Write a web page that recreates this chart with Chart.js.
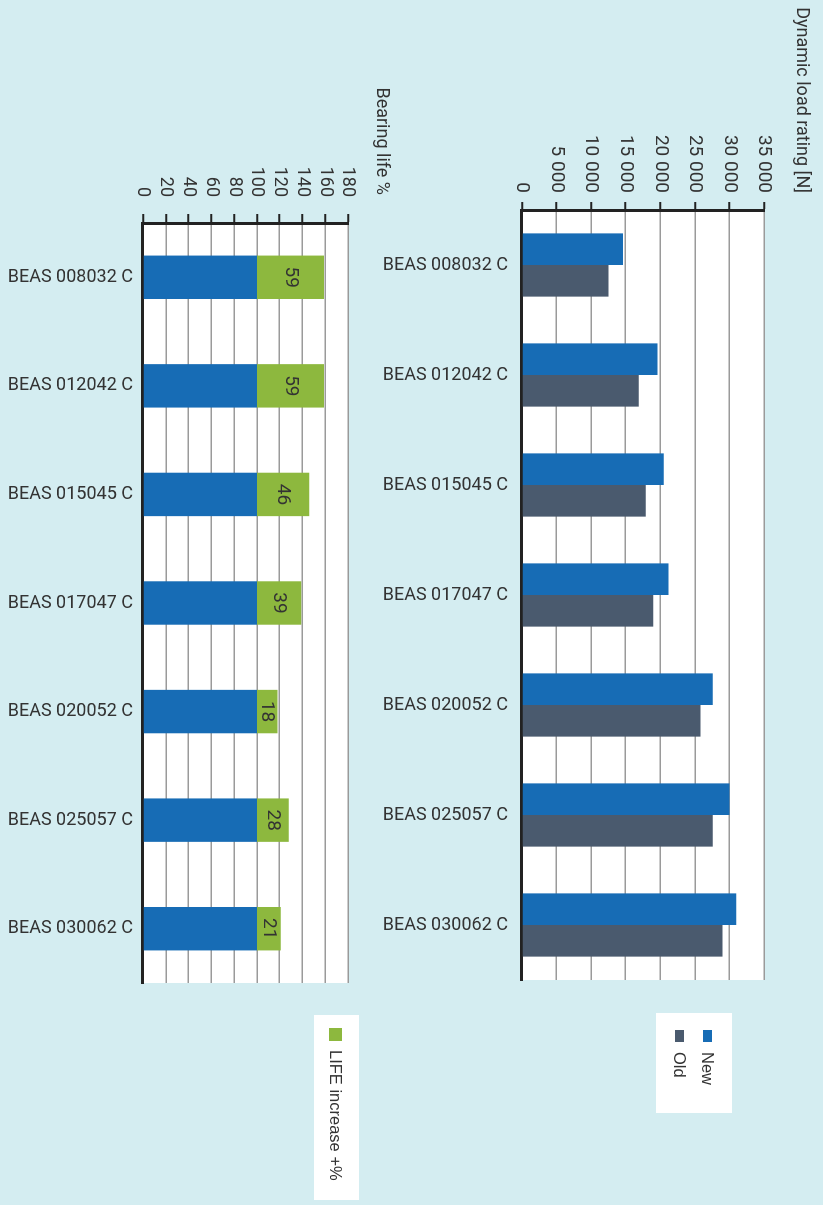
<!DOCTYPE html>
<html>
<head>
<meta charset="utf-8">
<script src="https://cdn.jsdelivr.net/npm/chart.js@4.4.0/dist/chart.umd.min.js"></script>
<style>
  body { margin: 0; background: #d4edf1; width: 823px; height: 1205px; overflow: hidden; }
  /* whole figure is laid out flat, then turned a quarter clockwise */
  #page { position: absolute; left: 0; top: 0; width: 1205px; height: 823px;
          transform-origin: 0 0; transform: translate(823px, 0) rotate(90deg); }
  canvas { position: absolute; left: 0; }
  #load-chart { top: 0; }
  #life-chart { top: 420px; }
  .legend { position: absolute; background: #fff; color: #333;
            font-family: "Liberation Sans", Arial, sans-serif; font-size: 16.5px; }
  .legend span { position: absolute; white-space: nowrap; line-height: 20px; }
  .legend i { position: absolute; }
</style>
</head>
<body>
<div id="page">
  <canvas id="load-chart" width="1205" height="460"></canvas>
  <canvas id="life-chart" width="1205" height="403"></canvas>
  <div class="legend" id="load-legend" style="left:1013px; top:91px; width:100px; height:76px;"></div>
  <div class="legend" id="life-legend" style="left:1015px; top:464px; width:185px; height:45px;"></div>
</div>
<script>
const categories = ["BEAS 008032 C", "BEAS 012042 C", "BEAS 015045 C", "BEAS 017047 C",
                    "BEAS 020052 C", "BEAS 025057 C", "BEAS 030062 C"];

// dynamic load rating [N]
const newRating = [14600, 19600, 20500, 21200, 27600, 30000, 31000];
const oldRating = [12500, 16900, 17900, 19000, 25800, 27600, 29000];
const ratingMax = 35000;
const ratingStep = 5000;

// bearing life %
const baseLife = [100, 100, 100, 100, 100, 100, 100];
const lifeIncrease = [59, 59, 46, 39, 18, 28, 21];
const lifeMax = 180;
const lifeStep = 20;

const loadSeries = ["New", "Old"];
const lifeSeries = ["LIFE increase +%"];

const BLUE = "#176cb5";
const SLATE = "#4a5a6e";
const GREEN = "#8db83e";
const TEXT = "#333";

Chart.defaults.font.family = "Roboto, sans-serif";
Chart.defaults.color = TEXT;

const fmt = v => String(v).replace(/\B(?=(\d{3})+(?!\d))/g, " ");

// white plot area
const plotBackground = {
  id: "plotBackground",
  beforeDraw(chart) {
    const { ctx, chartArea: a } = chart;
    ctx.save();
    ctx.fillStyle = "#fff";
    ctx.fillRect(a.left, a.top, a.right - a.left, a.bottom - a.top);
    ctx.restore();
  }
};

// axis caption sitting above the value ticks
const cornerTitle = {
  id: "cornerTitle",
  afterDraw(chart, args, opts) {
    const ctx = chart.ctx;
    ctx.save();
    ctx.font = "18px Roboto, sans-serif";
    ctx.fillStyle = TEXT;
    ctx.textAlign = "right";
    ctx.textBaseline = "middle";
    ctx.fillText(opts.text, opts.right, opts.y);
    ctx.restore();
  }
};

// numbers inside the green segments
const barValues = {
  id: "barValues",
  afterDatasetsDraw(chart) {
    const ctx = chart.ctx;
    const meta = chart.getDatasetMeta(1);
    ctx.save();
    ctx.font = "19px Roboto, sans-serif";
    ctx.fillStyle = TEXT;
    ctx.textAlign = "center";
    ctx.textBaseline = "middle";
    meta.data.forEach((bar, i) => {
      ctx.fillText(lifeIncrease[i], bar.x, (bar.y + bar.base) / 2);
    });
    ctx.restore();
  }
};

const categoryAxis = (height, pad) => ({
  z: 1,
  stacked: true,
  grid: { display: false, drawTicks: false },
  border: { color: "#222", width: 3 },
  ticks: { minRotation: 90, maxRotation: 90, autoSkip: false, padding: pad, color: TEXT, font: { size: 18 } },
  afterFit: s => { s.height = height; }
});

new Chart(document.getElementById("load-chart"), {
  type: "bar",
  data: {
    labels: categories,
    datasets: [
      { label: loadSeries[0], data: newRating, backgroundColor: BLUE, categoryPercentage: 0.575, barPercentage: 1 },
      { label: loadSeries[1], data: oldRating, backgroundColor: SLATE, categoryPercentage: 0.575, barPercentage: 1 }
    ]
  },
  options: {
    responsive: false,
    animation: false,
    layout: { padding: { top: 59, left: 10, right: 225, bottom: 0 } },
    plugins: {
      legend: { display: false },
      tooltip: { enabled: false },
      cornerTitle: { text: "Dynamic load rating [N]", right: 193, y: 21 }
    },
    scales: {
      x: Object.assign(categoryAxis(159, 14), { stacked: false }),
      y: {
        min: 0, max: ratingMax,
        ticks: { stepSize: ratingStep, autoSkip: false, padding: 9, color: TEXT, font: { size: 19 }, callback: v => fmt(v) },
        grid: { color: "#9a9a9a", lineWidth: 1.5, tickColor: "#222", tickLength: 8, tickWidth: 2 },
        border: { color: "#222", width: 3 },
        afterFit: s => { s.width = 200; }
      }
    }
  },
  plugins: [plotBackground, cornerTitle]
});

new Chart(document.getElementById("life-chart"), {
  type: "bar",
  data: {
    labels: categories,
    datasets: [
      { label: "Base", data: baseLife, backgroundColor: BLUE, categoryPercentage: 0.4, barPercentage: 1 },
      { label: lifeSeries[0], data: lifeIncrease, backgroundColor: GREEN, categoryPercentage: 0.4, barPercentage: 1 }
    ]
  },
  options: {
    responsive: false,
    animation: false,
    layout: { padding: { top: 55, left: 10, right: 222, bottom: 0 } },
    plugins: {
      legend: { display: false },
      tooltip: { enabled: false },
      cornerTitle: { text: "Bearing life %", right: 195, y: 21 }
    },
    scales: {
      x: categoryAxis(143, 10),
      y: {
        stacked: true,
        min: 0, max: lifeMax,
        ticks: { stepSize: lifeStep, autoSkip: false, padding: 17, color: TEXT, font: { size: 18 } },
        grid: { color: "#9a9a9a", lineWidth: 1.5, tickColor: "#222", tickLength: 9, tickWidth: 2 },
        border: { color: "#222", width: 3 },
        afterFit: s => { s.width = 213; }
      }
    }
  },
  plugins: [plotBackground, cornerTitle, barValues]
});

// legends
function buildLegend(el, names, colors, sw, rows) {
  names.forEach((name, i) => {
    const r = rows[i];
    const box = document.createElement("i");
    box.style.cssText = `left:${r.x}px;top:${r.y - sw[1] / 2}px;width:${sw[0]}px;height:${sw[1]}px;background:${colors[i]}`;
    const txt = document.createElement("span");
    txt.textContent = name;
    txt.style.cssText = `left:${r.x + r.gap}px;top:${r.y - 10}px`;
    el.appendChild(box);
    el.appendChild(txt);
  });
}
buildLegend(document.getElementById("load-legend"), loadSeries, [BLUE, SLATE], [12, 9],
  [{ x: 17, y: 24, gap: 22 }, { x: 17, y: 52, gap: 22 }]);
buildLegend(document.getElementById("life-legend"), lifeSeries, [GREEN], [13, 13],
  [{ x: 13, y: 23, gap: 22 }]);
</script>
</body>
</html>
